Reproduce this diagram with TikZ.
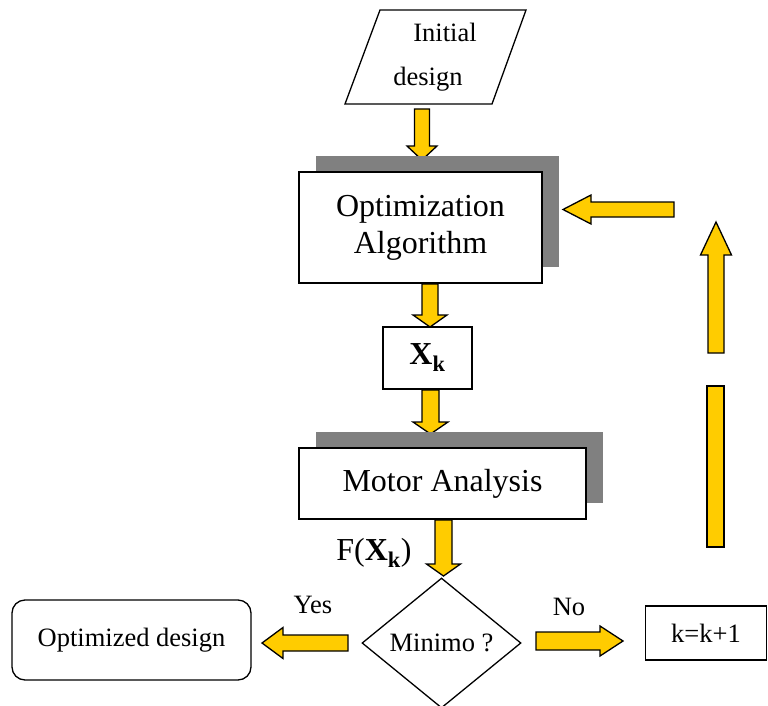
\documentclass[tikz,border=0pt]{standalone}
\usepackage{fontspec}
\setmainfont{Liberation Serif}
\usetikzlibrary{calc,shapes.geometric,shadows}
\definecolor{ayellow}{HTML}{FFCC00}
\definecolor{shgray}{HTML}{808080}
\tikzset{
  barrowstyle/.style={draw=black, line width=1.3pt, fill=ayellow, line join=miter},
  box/.style={draw, line width=1.6pt, fill=white, inner sep=0pt, align=center, font=\fontsize{32}{37}\selectfont},
  smalltext/.style={inner sep=0pt, font=\fontsize{26.5}{30}\selectfont},
  shadowed/.style={general shadow={fill=shgray, shadow xshift=16.5pt, shadow yshift=16.5pt}}
}
% tail, tip, shaft half width, head half width, head length
\newcommand{\blockarrow}[5]{%
  \coordinate (tmphb) at ($(#2)!#5!(#1)$);
  \draw[barrowstyle] ($(#1)!#3!90:(#2)$) -- ($(tmphb)!#3!90:(#2)$) -- ($(tmphb)!#4!90:(#2)$)
    -- (#2) -- ($(tmphb)!#4!-90:(#2)$) -- ($(tmphb)!#3!-90:(#2)$) -- ($(#1)!#3!-90:(#2)$) -- cycle;
}
\begin{document}
\begin{tikzpicture}[x=1pt,y=-1pt]
\useasboundingbox (0,0) rectangle (768,706);
\fill[white] (0,0) rectangle (768,706);

% arrow end coordinates
\coordinate (a1t) at (422,109);   \coordinate (a1h) at (422,160);
\coordinate (a2t) at (430,284);   \coordinate (a2h) at (430,327);
\coordinate (a3t) at (430.5,390); \coordinate (a3h) at (430.5,434);
\coordinate (a4t) at (443.5,520); \coordinate (a4h) at (443.5,576);
\coordinate (ayt) at (348,643);   \coordinate (ayh) at (262,643);
\coordinate (ant) at (536,641);   \coordinate (anh) at (623,641);
\coordinate (alt) at (674,209.5); \coordinate (alh) at (563,209.5);
\coordinate (aut) at (716,353);   \coordinate (auh) at (716,222);

\blockarrow{a1t}{a1h}{7.5pt}{15pt}{14pt}
\blockarrow{a2t}{a2h}{8pt}{17pt}{12pt}
\blockarrow{a3t}{a3h}{8.5pt}{17.5pt}{12pt}
\blockarrow{a4t}{a4h}{8.5pt}{17pt}{12pt}
\blockarrow{ayt}{ayh}{8pt}{15.5pt}{21pt}
\blockarrow{ant}{anh}{9pt}{15pt}{23pt}
\blockarrow{alt}{alh}{7.5pt}{14.5pt}{28pt}
\blockarrow{aut}{auh}{8pt}{15.5pt}{33pt}

% vertical bar
\fill[shgray!45] (706,387) rectangle (723,548);
\draw[barrowstyle] (707,386) rectangle (724,547);

% initial design parallelogram
\draw[line width=1.3pt, fill=white] (380,10) -- (526,10) -- (492,104) -- (345,104) -- cycle;
\node[smalltext] (init1) at (445,32) {Initial};
\node[smalltext] (init2) at (428,79) {design};

% boxes
\node[box, shadowed, minimum width=243pt, minimum height=111pt] (opt) at (420.5,227.5) {Optimization\\Algorithm\rule[-6pt]{0pt}{6pt}};
\node[box, minimum width=89pt, minimum height=62pt] (xk) at (427.5,358) {\textbf{X}\textsubscript{\textbf{k}}};
\node[box, shadowed, minimum width=287pt, minimum height=71pt] (motor) at (442.5,483.5) {Motor Analysis\rule[-6pt]{0pt}{6pt}};
\node[smalltext, font=\fontsize{32}{37}\selectfont] (fxk) at (374,553) {F(\textbf{X}\textsubscript{\textbf{k}})};
\node[draw, line width=1.3pt, fill=white, diamond, aspect=1.22, minimum width=159pt, minimum height=130pt, inner sep=0pt, font=\fontsize{26.5}{30}\selectfont] (dec) at (441.5,643) {Minimo ?};
\node[draw, line width=1.3pt, rounded corners=13pt, minimum width=239pt, minimum height=80pt, inner sep=0pt, font=\fontsize{26.5}{30}\selectfont] (opted) at (131.5,640) {Optimized design};
\node[draw, line width=1.3pt, minimum width=121pt, minimum height=54pt, inner sep=0pt, font=\fontsize{26.5}{30}\selectfont] (kk) at (706,633) {k=k+1};
\node[smalltext] (yes) at (313,605) {Yes};
\node[smalltext] (no) at (569,607) {No};
\end{tikzpicture}
\end{document}
